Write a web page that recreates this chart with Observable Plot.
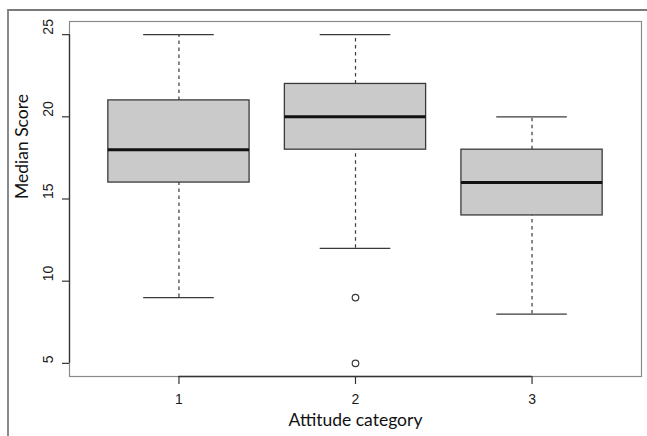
<!DOCTYPE html>
<html>
<head>
<meta charset="utf-8">
<script src="https://cdn.jsdelivr.net/npm/d3@7"></script>
<script src="https://cdn.jsdelivr.net/npm/@observablehq/plot@0.6"></script>
<style>
  html, body { margin: 0; padding: 0; background: #fff; }
  #wrap { position: relative; width: 647px; height: 436px; overflow: hidden; }
  #outer { position: absolute; left: 7px; top: 9px; right: -5px; bottom: -5px;
           border-top: 2px solid #7a7a7a; border-left: 2px solid #8a8a8a; }
  #chart { position: absolute; left: 0; top: 0; }
</style>
</head>
<body>
<div id="wrap"><div id="outer"></div><div id="chart"></div></div>
<script>
const categories = [1, 2, 3];
const whiskerLow = [9, 12, 8];
const q1 = [16, 18, 14];
const median = [18, 20, 16];
const q3 = [21, 22, 18];
const whiskerHigh = [25, 25, 20];
const outlierCategory = [2, 2];
const outlierValue = [9, 5];
const yTicks = [5, 10, 15, 20, 25];
const xTickLabels = ["1", "2", "3"];
const xTitle = "Attitude category";
const yTitle = "Median Score";

const boxes = categories.map((c, i) => ({
  cat: c, lo: whiskerLow[i], q1: q1[i], med: median[i], q3: q3[i], hi: whiskerHigh[i]
}));
const outliers = outlierCategory.map((c, i) => ({cat: c, v: outlierValue[i]}));

const boxHalf = 0.4, capHalf = 0.2;
const lineCol = "#3a3a3a";
const tickFont = "'Liberation Sans', Arial, sans-serif";
const titleFont = "Lato, 'Open Sans', sans-serif";

const chart = Plot.plot({
  width: 647,
  height: 436,
  marginLeft: 69,
  marginRight: 6,
  marginTop: 21,
  marginBottom: 60,
  style: {background: "transparent", fontFamily: tickFont},
  x: {domain: [0.38, 3.62], axis: null},
  y: {domain: [4.2, 25.8], axis: null},
  marks: [
    Plot.frame({stroke: "#8a8a8a", strokeWidth: 1.2}),
    // whiskers
    Plot.ruleX(boxes, {x: "cat", y1: "q3", y2: "hi", stroke: lineCol, strokeDasharray: "3.5,3.5", strokeWidth: 1.2}),
    Plot.ruleX(boxes, {x: "cat", y1: "lo", y2: "q1", stroke: lineCol, strokeDasharray: "3.5,3.5", strokeWidth: 1.2}),
    Plot.ruleY(boxes, {y: "hi", x1: d => d.cat - capHalf, x2: d => d.cat + capHalf, stroke: lineCol, strokeWidth: 1.3}),
    Plot.ruleY(boxes, {y: "lo", x1: d => d.cat - capHalf, x2: d => d.cat + capHalf, stroke: lineCol, strokeWidth: 1.3}),
    // boxes
    Plot.rect(boxes, {x1: d => d.cat - boxHalf, x2: d => d.cat + boxHalf, y1: "q1", y2: "q3",
      fill: "#cacaca", stroke: lineCol, strokeWidth: 1.3}),
    Plot.ruleY(boxes, {y: "med", x1: d => d.cat - boxHalf, x2: d => d.cat + boxHalf, stroke: "#111", strokeWidth: 3}),
    // outliers
    Plot.dot(outliers, {x: "cat", y: "v", r: 3.3, stroke: lineCol, strokeWidth: 1.2, fill: "white"}),
    // y axis
    Plot.ruleX([0.38], {y1: yTicks[0], y2: yTicks[yTicks.length - 1], stroke: "#333", strokeWidth: 1.3}),
    Plot.tickY(yTicks, {y: d => d, frameAnchor: "left", stroke: "#333", strokeWidth: 1.2, inset: 0,
      render: (index, scales, values, dims, context, next) => {
        const g = next(index, scales, values, dims, context);
        d3.select(g).selectAll("line").attr("x1", dims.marginLeft - 7).attr("x2", dims.marginLeft);
        return g;
      }}),
    Plot.text(yTicks, {y: d => d, text: d => String(d), frameAnchor: "left", dx: -21, rotate: -90,
      fontSize: 14, fill: "#1a1a1a", fontFamily: tickFont}),
    // x axis
    Plot.ruleY([4.2], {x1: categories[0], x2: categories[categories.length - 1], stroke: "#333", strokeWidth: 1.3}),
    Plot.tickX(categories, {x: d => d, stroke: "#333", strokeWidth: 1.2,
      render: (index, scales, values, dims, context, next) => {
        const g = next(index, scales, values, dims, context);
        const yb = dims.height - dims.marginBottom;
        d3.select(g).selectAll("line").attr("y1", yb).attr("y2", yb + 8);
        return g;
      }}),
    Plot.text(categories, {x: d => d, text: (d, i) => xTickLabels[i], frameAnchor: "bottom", dy: 27,
      fontSize: 14, fill: "#1a1a1a", fontFamily: tickFont}),
    // titles
    Plot.text([xTitle], {x: 2, text: d => d, frameAnchor: "bottom", dy: 49, fontSize: 17.5, fill: "#111", fontFamily: titleFont}),
    Plot.text([yTitle], {y: 15, text: d => d, frameAnchor: "left", dx: -47, rotate: -90, fontSize: 17.5, fill: "#111", fontFamily: titleFont})
  ]
});
document.getElementById("chart").appendChild(chart);
</script>
</body>
</html>
